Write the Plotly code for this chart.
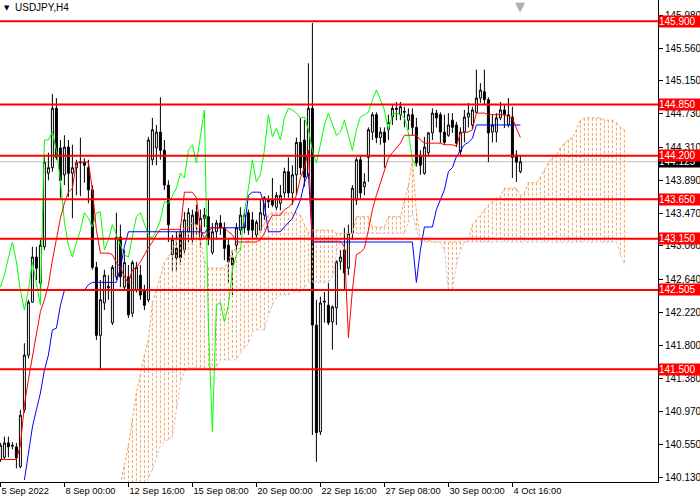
import plotly.graph_objects as go

# ---------------- data ----------------
x_tick_bars = [0, 16, 32, 48, 64, 80, 96, 112, 128]
x_tick_text = ["5 Sep 2022", "8 Sep 00:00", "12 Sep 16:00", "15 Sep 08:00", "20 Sep 00:00",
               "22 Sep 16:00", "27 Sep 08:00", "30 Sep 00:00", "4 Oct 16:00"]
y_tick_vals = [145.980, 145.560, 145.150, 144.730, 144.310, 143.890, 143.470, 143.060,
               142.640, 142.220, 141.800, 141.380, 140.970, 140.550, 140.130]
levels = [145.900, 144.850, 144.200, 143.650, 143.150, 142.505, 141.500]
bid_price = 144.125
symbol_title = "USDJPY,H4"

opens = [140.36, 140.39, 140.57, 140.54, 140.52, 140.27, 140.99, 141.68, 142.35, 142.92,
         142.59, 143.05, 143.98, 144.05, 144.80, 144.30, 143.96, 144.31, 143.98, 144.05,
         144.11, 144.12, 144.05, 143.77, 142.79, 141.93, 142.34, 142.53, 142.09, 142.67,
         143.17, 142.54, 142.67, 142.21, 142.50, 142.69, 142.50, 142.38, 144.15, 144.30,
         144.50, 144.27, 143.83, 142.95, 143.03, 143.24, 143.01, 143.24, 143.14, 143.49,
         143.14, 143.41, 143.43, 142.98, 143.24, 143.35, 143.29, 143.07, 142.91, 143.07,
         143.26, 143.29, 143.48, 143.39, 143.20, 143.26, 143.45, 143.64, 143.64, 143.55,
         143.60, 143.73, 144.00, 143.73, 143.96, 144.37, 144.40, 143.96, 144.80, 142.06,
         140.71, 142.35, 142.31, 142.10, 142.28, 142.86, 143.01, 142.78, 143.22, 143.64,
         144.15, 143.81, 144.18, 144.50, 144.72, 144.43, 144.50, 144.53, 144.69, 144.80,
         144.72, 144.75, 144.65, 144.72, 144.56, 144.21, 143.98, 144.24, 144.49, 144.74,
         144.72, 144.50, 144.46, 144.65, 144.59, 144.25, 144.50, 144.69, 144.59, 144.75,
         144.93, 145.01, 144.91, 144.50, 144.50, 144.68, 144.78, 144.59, 144.69, 144.21,
         144.00]
highs = [140.57, 140.65, 140.65, 140.58, 140.57, 140.99, 141.83, 142.38, 143.05, 143.05,
         143.14, 144.21, 144.24, 144.98, 144.93, 144.40, 144.46, 144.40, 144.34, 144.15,
         144.43, 144.17, 144.15, 143.83, 142.86, 142.63, 142.76, 142.69, 142.82, 143.48,
         143.33, 143.01, 142.82, 142.88, 142.86, 142.82, 142.57, 144.44, 144.68, 144.59,
         144.94, 144.40, 143.89, 143.20, 143.24, 143.33, 143.49, 143.54, 143.52, 143.58,
         143.52, 143.54, 143.64, 143.35, 143.39, 143.45, 143.36, 143.14, 143.01, 143.35,
         143.55, 143.52, 143.52, 143.49, 143.39, 143.64, 143.69, 143.70, 143.92, 143.74,
         143.83, 144.05, 144.18, 144.08, 144.43, 144.68, 144.65, 145.37, 145.88, 142.38,
         142.42, 142.48, 142.59, 142.31, 142.88, 143.01, 143.29, 143.33, 143.83, 144.18,
         144.21, 143.98, 144.56, 144.75, 144.75, 144.56, 144.56, 144.72, 144.84, 144.88,
         144.88, 144.82, 144.80, 144.80, 144.68, 144.27, 144.44, 144.50, 144.80, 144.78,
         144.75, 144.72, 144.74, 144.74, 144.63, 144.56, 144.78, 144.87, 144.82, 145.29,
         145.12, 145.29, 144.94, 144.72, 144.74, 144.88, 144.84, 144.93, 144.82, 144.27,
         144.21]
lows = [140.33, 140.36, 140.39, 140.49, 140.25, 140.25, 140.95, 141.64, 142.34, 142.63,
        142.50, 143.01, 143.89, 144.00, 144.15, 143.67, 143.83, 143.68, 143.41, 143.70,
        143.69, 143.86, 143.60, 142.76, 141.87, 141.49, 142.25, 142.38, 142.06, 142.63,
        142.54, 142.50, 142.15, 142.16, 142.47, 142.38, 142.25, 142.35, 144.08, 144.08,
        144.15, 143.77, 143.11, 142.73, 142.73, 142.82, 142.95, 143.11, 143.07, 143.20,
        143.04, 143.30, 143.07, 142.95, 143.14, 143.20, 142.88, 142.60, 142.44, 142.98,
        143.20, 143.22, 143.20, 143.16, 143.14, 143.22, 143.39, 143.54, 143.55, 143.51,
        143.51, 143.67, 143.67, 143.58, 143.70, 143.96, 143.81, 143.92, 140.67, 140.33,
        140.67, 142.09, 142.06, 141.75, 142.06, 142.76, 142.50, 142.69, 143.14, 143.58,
        143.64, 143.70, 143.87, 144.40, 144.36, 144.34, 144.05, 144.40, 144.59, 144.65,
        144.65, 144.56, 144.53, 144.46, 144.06, 143.96, 143.96, 144.19, 144.40, 144.56,
        144.36, 144.34, 144.44, 144.49, 144.31, 144.21, 144.37, 144.56, 144.53, 144.74,
        144.87, 144.84, 144.12, 144.37, 144.37, 144.65, 144.55, 144.56, 143.92, 143.87,
        143.98]
closes = [140.54, 140.57, 140.52, 140.53, 140.38, 140.92, 141.68, 142.35, 142.92, 142.78,
          143.07, 144.12, 144.05, 144.80, 144.18, 143.89, 144.31, 143.98, 144.05, 144.11,
          144.12, 144.08, 143.77, 142.79, 141.93, 142.38, 142.69, 142.55, 142.79, 143.17,
          142.67, 142.85, 142.19, 142.85, 142.79, 142.44, 142.31, 144.40, 144.53, 144.50,
          144.27, 143.83, 143.33, 143.14, 142.91, 142.91, 143.39, 143.48, 143.45, 143.33,
          143.41, 143.45, 143.16, 143.24, 143.35, 143.29, 143.03, 142.86, 142.82, 143.29,
          143.45, 143.45, 143.26, 143.26, 143.36, 143.48, 143.67, 143.62, 143.58, 143.70,
          143.70, 144.00, 143.73, 143.96, 144.37, 144.05, 143.93, 144.80, 142.06, 140.70,
          142.34, 142.36, 142.09, 142.29, 142.86, 142.92, 142.72, 143.22, 143.79, 144.15,
          143.73, 143.87, 144.53, 144.72, 144.43, 144.50, 144.37, 144.62, 144.80, 144.79,
          144.82, 144.76, 144.72, 144.56, 144.11, 144.08, 144.31, 144.49, 144.74, 144.68,
          144.50, 144.37, 144.59, 144.56, 144.36, 144.50, 144.69, 144.74, 144.78, 144.93,
          145.03, 144.91, 144.49, 144.59, 144.68, 144.78, 144.72, 144.72, 144.18, 144.12,
          144.125]

tenkan = [140.36, 140.36, 140.36, 140.36, 140.36, 140.54, 141.05, 141.37, 141.66, 141.94,
          142.23, 142.38, 142.57, 142.88, 143.14, 143.41, 143.60, 143.74, 143.79, 144.12,
          144.12, 144.12, 144.12, 143.77, 143.26, 142.97, 142.97, 142.97, 142.95, 142.85,
          142.79, 142.67, 142.59, 142.76, 142.79, 142.86, 142.95, 143.04, 143.11, 143.20,
          143.27, 143.27, 143.27, 143.27, 143.27, 143.27, 143.74, 143.74, 143.74, 143.67,
          143.26, 143.16, 143.24, 143.29, 143.29, 143.29, 143.29, 143.24, 143.20, 143.11,
          143.11, 143.11, 143.11, 143.11, 143.11, 143.14, 143.22, 143.36, 143.45, 143.45,
          143.45, 143.52, 143.55, 143.60, 143.70, 143.92, 144.05, 144.27, 143.12, 143.12,
          143.12, 143.12, 143.12, 143.12, 143.12, 143.12, 143.05, 141.90, 142.50, 142.95,
          142.98, 143.03, 143.26, 143.52, 143.70, 143.86, 144.02, 144.17, 144.24, 144.30,
          144.36, 144.46, 144.46, 144.46, 144.46, 144.40, 144.36, 144.36, 144.36, 144.36,
          144.36, 144.34, 144.34, 144.34, 144.32, 144.49, 144.50, 144.50, 144.53, 144.74,
          144.74, 144.74, 144.72, 144.72, 144.72, 144.72, 144.72, 144.70, 144.68, 144.55,
          144.43]
kijun = [None, None, None, None, None, None, 140.10, 140.42, 140.77, 140.99,
         141.20, 141.49, 141.68, 142.00, 142.02, 142.31, 142.50, 142.50, 142.50, 142.50,
         142.50, 142.50, 142.57, 142.60, 142.60, 142.60, 142.60, 142.60, 142.60, 142.60,
         142.78, 143.05, 143.24, 143.24, 143.24, 143.24, 143.24, 143.24, 143.24, 143.24,
         143.24, 143.24, 143.24, 143.24, 143.24, 143.24, 143.24, 143.24, 143.24, 143.24,
         143.24, 143.22, 143.29, 143.29, 143.29, 143.29, 143.29, 143.29, 143.29, 143.29,
         143.29, 143.29, 143.70, 143.74, 143.74, 143.74, 143.58, 143.24, 143.24, 143.24,
         143.24, 143.30, 143.36, 143.41, 143.52, 143.64, 143.86, 143.98, 143.11, 143.11,
         143.11, 143.11, 143.11, 143.11, 143.11, 143.11, 143.11, 143.11, 143.11, 143.11,
         143.11, 143.11, 143.11, 143.11, 143.11, 143.11, 143.11, 143.11, 143.11, 143.11,
         143.11, 143.11, 143.11, 143.11, 142.60, 143.01, 143.30, 143.30, 143.30, 143.52,
         143.64, 143.77, 144.00, 144.05, 144.19, 144.27, 144.34, 144.37, 144.42, 144.59,
         144.59, 144.59, 144.59, 144.59, 144.59, 144.59, 144.59, 144.59, 144.59, 144.59,
         144.59]
chikou = [142.54, 142.69, 142.91, 143.11, 142.86, 142.50, 142.25, 142.50, 142.86, 142.57,
          142.31, 144.40, 144.40, 144.50, 144.27, 143.89, 143.36, 143.07, 142.92, 143.10,
          143.26, 143.48, 143.41, 143.30, 143.48, 143.49, 143.01, 143.14, 143.33, 143.20,
          143.07, 142.95, 142.92, 143.20, 143.43, 143.48, 143.33, 143.20, 143.16, 143.26,
          143.39, 143.62, 143.60, 143.70, 143.79, 143.98, 143.92, 144.27, 144.34, 144.11,
          144.46, 144.78, 142.06, 140.71, 142.31, 142.35, 142.10, 142.31, 142.76, 142.95,
          143.01, 143.49, 143.79, 144.15, 143.87, 143.96, 144.27, 144.72, 144.44, 144.55,
          144.40, 144.68, 144.80, 144.78, 144.74, 144.68, 144.69, 144.53, 144.27, 144.11,
          144.34, 144.59, 144.74, 144.59, 144.46, 144.50, 144.65, 144.46, 144.27, 144.53,
          144.69, 144.72, 144.75, 144.91, 145.03, 144.91, 144.78, 144.53, 144.72, 144.74,
          144.72, 144.68, 144.49, 144.15, 144.06]
span_a = [None] * 30 + [
    140.04, 140.27, 140.54, 140.86, 141.20, 141.43, 141.68, 141.87, 142.34, 142.50,
    142.69, 142.85, 142.92, 143.01, 143.14, 143.24, 143.29, 143.30, 143.36, 143.33,
    143.14, 142.88, 142.78, 142.78, 142.78, 142.78, 142.78, 142.86, 143.01, 143.01,
    143.03, 143.07, 143.14, 143.16, 143.16, 143.26, 143.36, 143.45, 143.48, 143.48,
    143.48, 143.48, 143.48, 143.48, 143.48, 143.45, 143.33, 143.22, 143.26, 143.26,
    143.26, 143.26, 143.26, 143.26, 143.22, 143.22, 143.22, 143.22, 143.22, 143.43,
    143.43, 143.43, 143.43, 143.30, 143.30, 143.30, 143.30, 143.43, 143.43, 143.43,
    143.43, 143.64, 143.83, 144.15, 143.48, 143.14, 143.14, 143.14, 143.11, 143.11,
    143.11, 143.11, 143.11, 143.11, 143.11, 143.11, 143.11, 143.14, 143.33, 143.39,
    143.45, 143.51, 143.58, 143.62, 143.67, 143.68, 143.79, 143.79, 143.79, 143.79,
    143.70, 143.73, 143.86, 143.86, 143.86, 143.93, 144.02, 144.11, 144.18, 144.21,
    144.30, 144.36, 144.40, 144.43, 144.53, 144.65, 144.68, 144.68, 144.68, 144.68,
    144.68, 144.65, 144.65, 144.65, 144.62, 144.56, 144.53]
span_b = [None] * 30 + [
    139.95, 139.95, 139.95, 139.95, 139.95, 139.95, 139.95, 140.13, 140.23, 140.38,
    140.54, 140.58, 140.61, 140.65, 140.99, 141.33, 141.47, 141.52, 141.52, 141.52,
    141.52, 141.52, 141.52, 141.52, 141.52, 141.62, 141.62, 141.62, 141.62, 141.62,
    141.71, 141.77, 141.83, 141.97, 142.00, 142.00, 142.00, 142.19, 142.31, 142.40,
    142.44, 142.44, 142.44, 142.48, 142.48, 142.48, 142.53, 142.60, 142.60, 142.60,
    142.60, 142.60, 142.60, 142.67, 142.95, 143.14, 143.22, 143.22, 143.22, 143.22,
    143.22, 143.22, 143.22, 143.22, 143.22, 143.22, 143.22, 143.22, 143.22, 143.22,
    143.22, 143.22, 143.36, 143.48, 143.26, 143.11, 143.11, 143.11, 143.11, 143.11,
    143.11, 143.01, 142.50, 142.50, 142.82, 143.01, 143.11, 143.11, 143.11, 143.11,
    143.11, 143.11, 143.11, 143.11, 143.11, 143.11, 143.11, 143.11, 143.11, 143.11,
    143.11, 143.11, 143.11, 143.11, 143.11, 143.11, 143.11, 143.11, 143.11, 143.11,
    143.11, 143.11, 143.11, 143.11, 143.11, 143.11, 143.11, 143.11, 143.11, 143.11,
    143.11, 143.11, 143.11, 143.11, 143.11, 142.95, 142.82]

# ---------------- figure ----------------
FONT = "Liberation Sans"
bars = list(range(len(opens)))
y_range = [140.076, 146.17]

fig = go.Figure()

fig.add_trace(go.Candlestick(
    x=bars, open=opens, high=highs, low=lows, close=closes,
    increasing=dict(fillcolor="white", line=dict(color="black", width=1)),
    decreasing=dict(fillcolor="black", line=dict(color="black", width=1)),
    whiskerwidth=0, hoverinfo="skip", showlegend=False))

# Kumo hatch: vertical dotted lines between Senkou A and Senkou B on every bar
hx_up, hy_up, hx_dn, hy_dn = [], [], [], []
for i, (a, b) in enumerate(zip(span_a, span_b)):
    if a is None or b is None:
        continue
    if a >= b:
        hx_up += [i, i, None]
        hy_up += [a, b, None]
    else:
        hx_dn += [i, i, None]
        hy_dn += [a, b, None]
fig.add_trace(go.Scatter(x=hx_up, y=hy_up, mode="lines", hoverinfo="skip", showlegend=False,
                         line=dict(color="#F4A460", width=1, dash="3px,2px")))
if hx_dn:
    fig.add_trace(go.Scatter(x=hx_dn, y=hy_dn, mode="lines", hoverinfo="skip", showlegend=False,
                             line=dict(color="#D8BFD8", width=1, dash="3px,2px")))

span_x = list(range(len(span_a)))
fig.add_trace(go.Scatter(x=span_x, y=span_a, mode="lines", hoverinfo="skip", showlegend=False,
                         line=dict(color="#F4A460", width=1, dash="3px,2px")))
fig.add_trace(go.Scatter(x=span_x, y=span_b, mode="lines", hoverinfo="skip", showlegend=False,
                         line=dict(color="#D8BFD8", width=1, dash="3px,2px")))

fig.add_trace(go.Scatter(x=list(range(len(chikou))), y=chikou, mode="lines", hoverinfo="skip",
                         showlegend=False, line=dict(color="#00FF00", width=1)))
fig.add_trace(go.Scatter(x=bars, y=kijun, mode="lines", hoverinfo="skip", showlegend=False,
                         line=dict(color="#0000FF", width=1)))
fig.add_trace(go.Scatter(x=bars, y=tenkan, mode="lines", hoverinfo="skip", showlegend=False,
                         line=dict(color="#FF0000", width=1)))

# bid line
fig.add_hline(y=bid_price, line=dict(color="#C0C0C0", width=1), layer="below")
# horizontal levels
for lv in levels:
    fig.add_hline(y=lv, line=dict(color="#FF0000", width=2), layer="above")

annotations = []
# current price label (mostly covered by the 144.200 label)
annotations.append(dict(x=1, xref="paper", xanchor="left", y=bid_price, yref="y", yanchor="middle",
                        text=f"{bid_price:.3f}", showarrow=False, bgcolor="black",
                        font=dict(color="white", size=10, family=FONT),
                        width=41, height=11, align="left", borderpad=0))
for lv in levels:
    annotations.append(dict(x=1, xref="paper", xanchor="left", y=lv, yref="y", yanchor="middle",
                            text=f"{lv:.3f}", showarrow=False, bgcolor="#FF0000",
                            font=dict(color="white", size=10, family=FONT),
                            width=41, height=11, align="left", borderpad=0))
# title
annotations.append(dict(x=0, xref="paper", xanchor="left", xshift=2, y=1, yref="paper",
                        yanchor="top", yshift=-2, text="▼", showarrow=False,
                        font=dict(color="black", size=7, family="DejaVu Sans")))
annotations.append(dict(x=0, xref="paper", xanchor="left", xshift=13, y=1, yref="paper",
                        yanchor="top", yshift=0, text=symbol_title, showarrow=False,
                        font=dict(color="black", size=10, family=FONT)))
# chart-shift marker above the last bar
annotations.append(dict(x=bars[-1], xref="x", xanchor="center", y=1, yref="paper",
                        yanchor="top", yshift=3, text="▼", showarrow=False,
                        font=dict(color="#B0B0B0", size=13, family="DejaVu Sans")))

fig.update_layout(
    width=700, height=500,
    margin=dict(l=0, r=42, t=0, b=18),
    paper_bgcolor="white", plot_bgcolor="white",
    font=dict(family=FONT, size=10, color="black"),
    showlegend=False, hovermode=False,
    annotations=annotations,
    xaxis=dict(range=[-0.1, 164.4], showgrid=False, zeroline=False, showline=True,
               linecolor="black", linewidth=1, ticks="outside", ticklen=4, tickcolor="black",
               tickvals=x_tick_bars, ticktext=x_tick_text, ticklabelposition="outside right",
               tickangle=0, automargin=False,
               tickfont=dict(size=9.3, family=FONT, color="black"), rangeslider=dict(visible=False)),
    yaxis=dict(range=y_range, side="right", showgrid=False, zeroline=False, showline=True,
               linecolor="black", linewidth=1, ticks="outside", ticklen=4, tickcolor="black",
               tickvals=y_tick_vals, ticktext=[f"{v:.3f}" for v in y_tick_vals], automargin=False,
               tickfont=dict(size=10, family=FONT, color="black")),
)

fig.write_html("out.html", config={"displayModeBar": False},
               post_script="document.body.style.margin='0';document.body.style.overflow='hidden';")
